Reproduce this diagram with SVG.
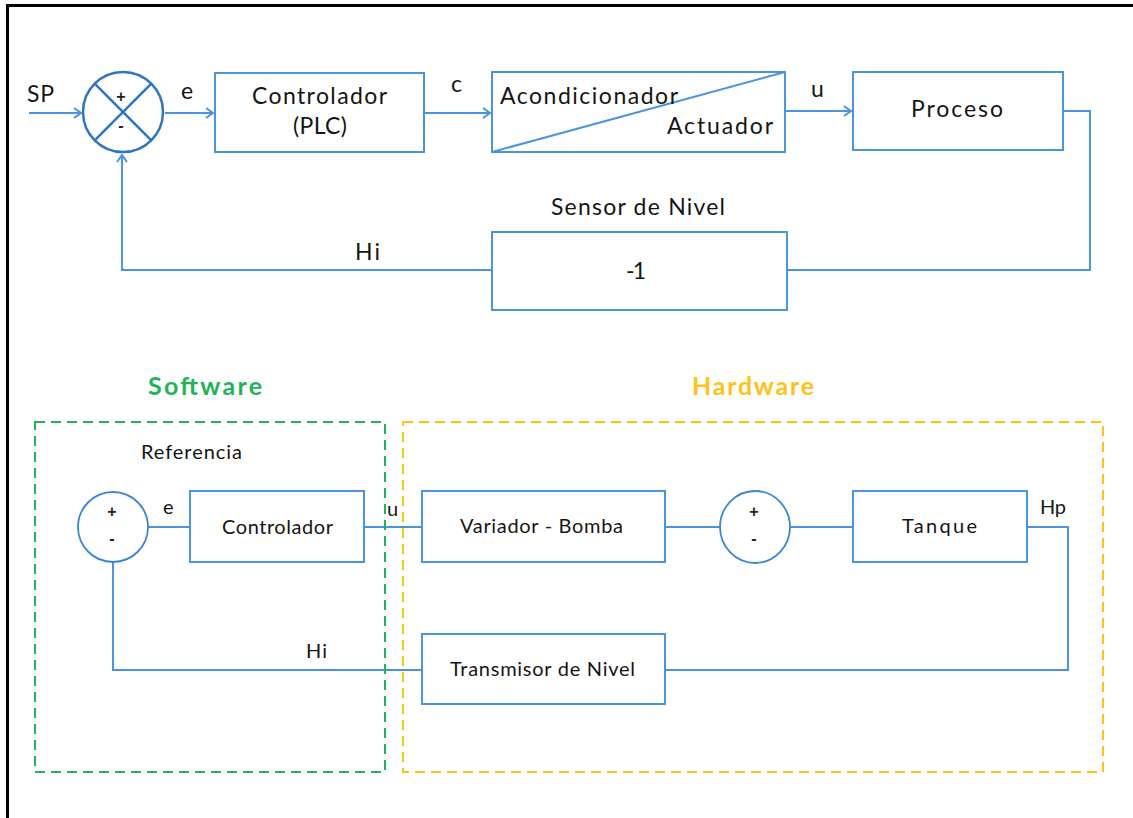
<svg xmlns="http://www.w3.org/2000/svg" width="1133" height="818" viewBox="0 0 1133 818">
<style>
.bg{fill:#ffffff}
.frame{fill:none;stroke:#000000;stroke-width:3}
.box{fill:#ffffff;stroke:#4a94e0;stroke-width:2}
.sum{fill:#ffffff;stroke:#2f75c0;stroke-width:2.5}
.sum2{fill:#ffffff;stroke:#3a86d4;stroke-width:1.8}
.wire{fill:none;stroke:#4a94e0;stroke-width:2}
.t{font-family:Lato,"Liberation Sans",sans-serif;fill:#151515}
.big{font-size:23px}
.small{font-size:20px}
.sign{font-family:"Liberation Sans",sans-serif;font-size:16px;font-weight:bold;fill:#222;text-anchor:middle}
.hdr{font-family:Lato,"Liberation Sans",sans-serif;font-size:25px;font-weight:bold}
.dashG{fill:none;stroke:#1fb35a;stroke-width:2;stroke-dasharray:10 6}
.dashO{fill:none;stroke:#ffc21a;stroke-width:2;stroke-dasharray:10 6}
</style>
<defs>
<marker id="arr" markerWidth="12" markerHeight="12" refX="10" refY="6" orient="auto" markerUnits="userSpaceOnUse">
<polyline points="3,1 10,6 3,11" fill="none" stroke="#4a94e0" stroke-width="2"/>
</marker>
</defs>
<rect class="bg" x="0" y="0" width="1133" height="818"/>
<polyline class="frame" points="7.5,818 7.5,5.5 1133,5.5"/>

<g id="connectors">
<line class="wire" x1="29" y1="113" x2="81" y2="113" marker-end="url(#arr)"/>
<line class="wire" x1="165" y1="113" x2="213" y2="113" marker-end="url(#arr)"/>
<line class="wire" x1="425" y1="113" x2="490" y2="113" marker-end="url(#arr)"/>
<line class="wire" x1="786" y1="111" x2="851" y2="111" marker-end="url(#arr)"/>
<polyline class="wire" points="1063,111 1090,111 1090,270 787,270"/>
<polyline class="wire" points="492,270 122,270 122,155" marker-end="url(#arr)"/>
<line class="wire" x1="148" y1="527" x2="190" y2="527"/>
<line class="wire" x1="364" y1="527" x2="422" y2="527"/>
<line class="wire" x1="665" y1="527" x2="720" y2="527"/>
<line class="wire" x1="790" y1="527" x2="853" y2="527"/>
<polyline class="wire" points="1027,527 1068,527 1068,670 665,670"/>
<polyline class="wire" points="422,670 113,670 113,562"/>
<text class="t big" x="27" y="102" textLength="27">SP</text>
<text class="t big" x="181" y="99">e</text>
<text class="t big" x="451" y="92">c</text>
<text class="t big" x="811" y="97">u</text>
<text class="t big" x="355" y="260" textLength="25">Hi</text>
<text class="t small" x="163" y="514">e</text>
<text class="t small" x="387" y="516">u</text>
<text class="t small" x="306" y="658" textLength="21">Hi</text>
<text class="t small" x="1040" y="514" textLength="26">Hp</text>
</g>

<g id="sum1">
<circle class="sum" cx="123" cy="112" r="40"/>
<line class="sum" x1="94.7" y1="83.7" x2="151.3" y2="140.3" stroke-width="2"/>
<line class="sum" x1="151.3" y1="83.7" x2="94.7" y2="140.3" stroke-width="2"/>
<text class="sign" x="121" y="102">+</text>
<text class="sign" x="121" y="131">-</text>
</g>

<g id="controlador-plc">
<rect class="box" x="215" y="73" width="209" height="79"/>
<text class="t big" x="252" y="104" textLength="135">Controlador</text>
<text class="t big" x="293" y="134" textLength="54">(PLC)</text>
</g>

<g id="acondicionador-actuador">
<rect class="box" x="492" y="72" width="293" height="80"/>
<line class="wire" x1="492" y1="152" x2="785" y2="72"/>
<text class="t big" x="500" y="104" textLength="178">Acondicionador</text>
<text class="t big" x="667" y="134" textLength="106">Actuador</text>
</g>

<g id="proceso">
<rect class="box" x="853" y="72" width="210" height="78"/>
<text class="t big" x="911" y="117" textLength="92">Proceso</text>
</g>

<g id="sensor-nivel">
<rect class="box" x="492" y="232" width="295" height="78"/>
<text class="t big" x="551" y="215" textLength="174">Sensor de Nivel</text>
<text class="t big" x="626" y="279" textLength="20">-1</text>
</g>

<g id="software">
<rect class="dashG" x="35" y="422" width="350" height="350"/>
<text class="hdr" x="148" y="395" fill="#1fb35a" textLength="114">Software</text>
<text class="t small" x="141" y="459" textLength="101">Referencia</text>
</g>

<g id="hardware">
<rect class="dashO" x="403" y="422" width="700" height="350"/>
<text class="hdr" x="692" y="395" fill="#ffc21a" textLength="122">Hardware</text>
</g>

<g id="sum2">
<circle class="sum2" cx="113" cy="527" r="35"/>
<text class="sign" x="112" y="517">+</text>
<text class="sign" x="112" y="544">-</text>
</g>

<g id="controlador">
<rect class="box" x="190" y="491" width="174" height="71"/>
<text class="t small" x="222" y="534" textLength="111">Controlador</text>
</g>

<g id="variador-bomba">
<rect class="box" x="422" y="491" width="243" height="71"/>
<text class="t small" x="460" y="533" textLength="163">Variador - Bomba</text>
</g>

<g id="sum3">
<ellipse class="sum2" cx="755" cy="527" rx="35" ry="36"/>
<text class="sign" x="754" y="517">+</text>
<text class="sign" x="754" y="544">-</text>
</g>

<g id="tanque">
<rect class="box" x="853" y="491" width="174" height="71"/>
<text class="t small" x="902" y="533" textLength="75">Tanque</text>
</g>

<g id="transmisor">
<rect class="box" x="422" y="634" width="243" height="70"/>
<text class="t small" x="450" y="676" textLength="185">Transmisor de Nivel</text>
</g>
</svg>
